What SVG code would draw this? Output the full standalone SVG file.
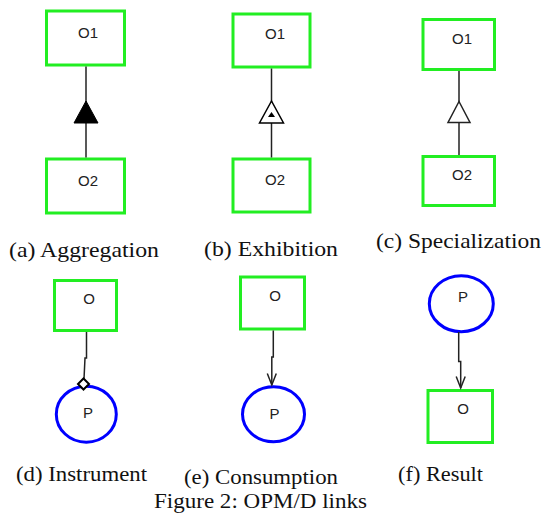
<svg xmlns="http://www.w3.org/2000/svg" width="543" height="519" viewBox="0 0 543 519">
<style>
.obj{fill:#fff;stroke:#22ee22;stroke-width:3}
.proc{fill:#fff;stroke:#0000ff;stroke-width:3}
.lbl{font-family:"Liberation Sans",Arial,sans-serif;font-size:15px;fill:#222;text-anchor:middle}
.cap{font-family:"Liberation Serif","Times New Roman",serif;font-size:21px;fill:#111}
.ln{fill:none;stroke:#222;stroke-width:1.5}
</style>
<rect width="543" height="519" fill="#fff"/>
<g id="a-O1"><rect class="obj" x="46.5" y="11" width="78" height="54"/><text class="lbl" x="88" y="37.5">O1</text></g>
<g id="a-O2"><rect class="obj" x="46.5" y="159" width="78" height="54"/><text class="lbl" x="88" y="186">O2</text></g>
<g id="b-O1"><rect class="obj" x="233" y="14" width="77" height="53"/><text class="lbl" x="275" y="39">O1</text></g>
<g id="b-O2"><rect class="obj" x="233" y="159" width="77" height="53"/><text class="lbl" x="275" y="185">O2</text></g>
<g id="c-O1"><rect class="obj" x="423" y="19.5" width="71.5" height="50"/><text class="lbl" x="462" y="44">O1</text></g>
<g id="c-O2"><rect class="obj" x="423" y="156.5" width="71.5" height="49"/><text class="lbl" x="462" y="180">O2</text></g>
<g id="d-O"><rect class="obj" x="54.5" y="280.5" width="62" height="50"/><text class="lbl" x="89" y="304">O</text></g>
<g id="d-P"><ellipse class="proc" cx="86.3" cy="414.2" rx="30" ry="28"/><text class="lbl" x="88" y="418">P</text></g>
<g id="e-O"><rect class="obj" x="240.5" y="277" width="64" height="52"/><text class="lbl" x="275" y="301">O</text></g>
<g id="e-P"><ellipse class="proc" cx="273.5" cy="414.2" rx="31" ry="27.5"/><text class="lbl" x="274.5" y="418.5">P</text></g>
<g id="f-P"><ellipse class="proc" cx="461.3" cy="303.7" rx="32" ry="28"/><text class="lbl" x="463" y="302">P</text></g>
<g id="f-O"><rect class="obj" x="428" y="390.5" width="64.5" height="52"/><text class="lbl" x="463" y="414">O</text></g>
<g id="connectors">
<line class="ln" x1="86" y1="66.5" x2="86" y2="157.5"/>
<polygon points="86,101 74,123 98,123" fill="#000" stroke="#000" stroke-width="1"/>
<line class="ln" x1="271.5" y1="68.5" x2="271.5" y2="157.5"/>
<polygon points="271.5,101 259.5,123 283.5,123" fill="#fff" stroke="#000" stroke-width="1.5"/>
<polygon points="271.5,112 268,117 275,117" fill="#000"/>
<line class="ln" x1="459" y1="71" x2="459" y2="155"/>
<polygon points="459,101.5 448,122.5 470,122.5" fill="#fff" stroke="#222" stroke-width="1.5"/>
<path class="ln" d="M86.5,332 L86.5,358 L85,358 L84,379"/>
<polygon points="83.5,378.5 89,384 83.5,389.5 78,384" fill="#fff" stroke="#000" stroke-width="2"/>
<path class="ln" d="M273.3,330.5 L273.3,357 L271.8,357 L271.8,385"/>
<path class="ln" d="M267.3,373.5 L271.8,385 L276.3,373.5"/>
<path class="ln" d="M458.7,332 L458.7,361.5 L460.7,361.5 L460.7,388"/>
<path class="ln" d="M456.2,376.5 L460.7,388 L465.2,376.5"/>
</g>
<g id="captions">
<text class="cap" x="9" y="256.5" textLength="150" lengthAdjust="spacingAndGlyphs">(a) Aggregation</text>
<text class="cap" x="204" y="255.5" textLength="134" lengthAdjust="spacingAndGlyphs">(b) Exhibition</text>
<text class="cap" x="376" y="248" textLength="165" lengthAdjust="spacingAndGlyphs">(c) Specialization</text>
<text class="cap" x="16" y="481" textLength="131" lengthAdjust="spacingAndGlyphs">(d) Instrument</text>
<text class="cap" x="184" y="483.5" textLength="154" lengthAdjust="spacingAndGlyphs">(e) Consumption</text>
<text class="cap" x="398" y="481" textLength="85" lengthAdjust="spacingAndGlyphs">(f) Result</text>
<text class="cap" x="154" y="507.5" textLength="213" lengthAdjust="spacingAndGlyphs">Figure 2: OPM/D links</text>
</g>
</svg>
